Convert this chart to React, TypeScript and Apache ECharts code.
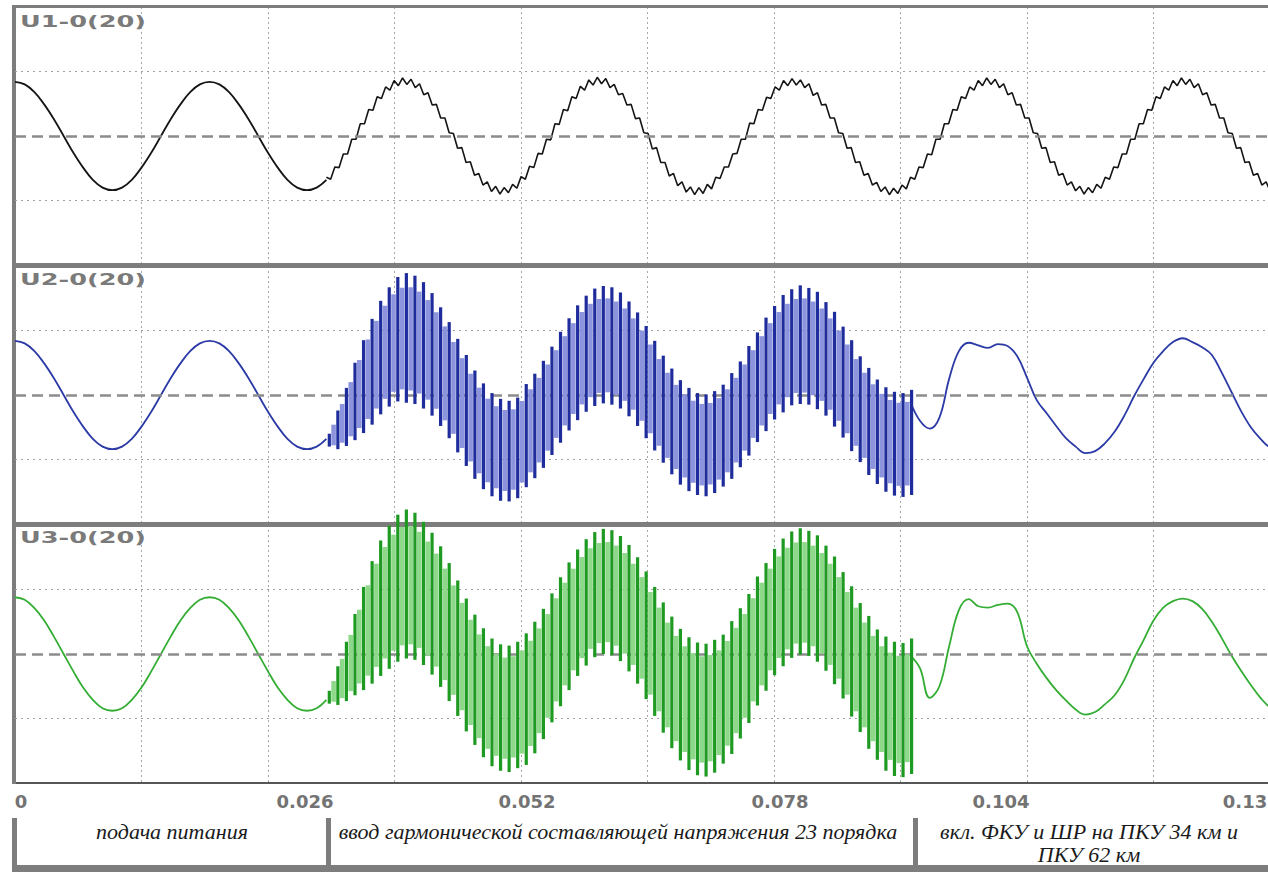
import React, { useEffect, useRef } from "react";
import * as echarts from "echarts";

// ---------- labels ----------
const X_TICK_LABELS = ["0", "0.026", "0.052", "0.078", "0.104", "0.13"];
const PANEL_TITLES = ["U1-0(20)", "U2-0(20)", "U3-0(20)"];
const CAPTION_1 = "подача питания";
const CAPTION_2 = "ввод гармонической составляющей напряжения 23 порядка";
const CAPTION_3A = "вкл. ФКУ и ШР на ПКУ 34 км и";
const CAPTION_3B = "ПКУ 62 км";

// ---------- sampling ----------
const X_MIN = 0;
const X_MAX = 0.13;
const X_STEP = 0.013;
const CLEAN_T0 = 0; // s
const CLEAN_DT = 0.001; // s
const HARM_T0 = 0.032; // s, start of 23rd harmonic injection (U1 trace)
const HARM_DT = 0.000435; // s, half period of the 23rd harmonic
const BAR_T0 = 0.0323; // s, first harmonic period on U2 / U3
const BAR_DT = 0.00088; // s, one period of the 23rd harmonic
const POST_T0 = 0.092; // s
const POST_DT = 0.001; // s

// ---------- U1 ----------
const U1_PRE = [
  0.84, 0.8, 0.68, 0.49, 0.26, 0.0, -0.26, -0.49, -0.68, -0.8, -0.84,
  -0.8, -0.68, -0.49, -0.26, 0.0, 0.26, 0.49, 0.68, 0.8, 0.84,
  0.8, 0.68, 0.49, 0.26, 0.0, -0.26, -0.49, -0.68, -0.8, -0.84, -0.8, -0.68,
];
const U1_HARM = [
  // 1
  -0.64, -0.67, -0.48, -0.49, -0.28, -0.28, -0.05, -0.05, 0.19, 0.19,
  0.41, 0.4, 0.61, 0.58, 0.76, 0.71, 0.86, 0.78, 0.9, 0.8,
  0.88, 0.75, 0.81, 0.64, 0.67, 0.48, 0.49, 0.28, 0.28, 0.05,
  0.04, -0.19, -0.18, -0.41, -0.4, -0.61, -0.58, -0.76, -0.71, -0.86,
  -0.78, -0.9, -0.8, -0.88, -0.75, -0.81,
  // 2
  -0.63, -0.67, -0.47, -0.49, -0.27, -0.28, -0.05, -0.06, 0.19, 0.18,
  0.41, 0.39, 0.61, 0.58, 0.77, 0.71, 0.87, 0.79, 0.91, 0.81,
  0.89, 0.75, 0.8, 0.64, 0.66, 0.48, 0.49, 0.27, 0.28, 0.05,
  0.04, -0.2, -0.18, -0.41, -0.41, -0.62, -0.58, -0.77, -0.71, -0.87,
  -0.79, -0.91, -0.8, -0.89, -0.75, -0.82,
  // 3
  -0.64, -0.66, -0.48, -0.48, -0.28, -0.27, -0.05, -0.05, 0.2, 0.19,
  0.41, 0.4, 0.6, 0.58, 0.76, 0.71, 0.86, 0.78, 0.89, 0.79,
  0.87, 0.75, 0.81, 0.63, 0.67, 0.48, 0.49, 0.28, 0.28, 0.05,
  0.04, -0.19, -0.18, -0.41, -0.4, -0.61, -0.58, -0.76, -0.72, -0.86,
  -0.79, -0.91, -0.81, -0.89, -0.76, -0.82,
  // 4
  -0.64, -0.67, -0.48, -0.49, -0.28, -0.29, -0.05, -0.05, 0.19, 0.19,
  0.41, 0.4, 0.61, 0.58, 0.76, 0.71, 0.86, 0.78, 0.9, 0.8,
  0.88, 0.75, 0.81, 0.64, 0.67, 0.48, 0.49, 0.28, 0.28, 0.05,
  0.04, -0.19, -0.18, -0.41, -0.4, -0.61, -0.58, -0.76, -0.71, -0.85,
  -0.78, -0.9, -0.8, -0.88, -0.75, -0.81,
  // 5
  -0.64, -0.67, -0.48, -0.49, -0.28, -0.28, -0.05, -0.05, 0.19, 0.19,
  0.41, 0.4, 0.61, 0.58, 0.76, 0.71, 0.86, 0.78, 0.9, 0.8,
  0.88, 0.75, 0.81, 0.64, 0.67, 0.48, 0.49, 0.28, 0.28, 0.05,
  0.04, -0.19, -0.18, -0.41, -0.4, -0.61, -0.58, -0.76, -0.71, -0.86,
  -0.78, -0.9, -0.8, -0.88, -0.75, -0.81,
];

// ---------- U2 ----------
const U2_PRE = [
  0.84, 0.8, 0.68, 0.49, 0.26, 0.0, -0.26, -0.49, -0.68, -0.8, -0.84,
  -0.8, -0.68, -0.49, -0.26, 0.0, 0.26, 0.49, 0.68, 0.8, 0.84,
  0.8, 0.68, 0.49, 0.26, 0.0, -0.26, -0.49, -0.68, -0.8, -0.84, -0.8, -0.68,
];
const U2_HI = [
  -0.6, -0.24, 0.11, 0.5, 0.85, 1.18, 1.46, 1.67, 1.83, 1.89, 1.85, 1.75,
  1.58, 1.36, 1.13, 0.87, 0.62, 0.38, 0.18, 0.03, -0.06, -0.09, -0.04,
  0.17, 0.33, 0.53, 0.75, 0.98, 1.19, 1.39, 1.54, 1.65, 1.69, 1.67, 1.59,
  1.45, 1.28, 1.07, 0.84, 0.61, 0.41, 0.23, 0.11, 0.03, 0.01, 0.06,
  0.16, 0.34, 0.52, 0.76, 0.97, 1.2, 1.38, 1.55, 1.64, 1.7, 1.66, 1.6,
  1.44, 1.29, 1.06, 0.85, 0.6, 0.42, 0.24, 0.12, 0.05, 0.03, 0.08,
];
const U2_LO = [
  -0.8, -0.84, -0.79, -0.7, -0.59, -0.46, -0.3, -0.18, -0.1, -0.12, -0.14, -0.21,
  -0.32, -0.48, -0.67, -0.89, -1.1, -1.3, -1.46, -1.57, -1.64, -1.65, -1.6,
  -1.43, -1.29, -1.13, -0.93, -0.74, -0.55, -0.39, -0.26, -0.17, -0.13, -0.15, -0.21,
  -0.33, -0.48, -0.67, -0.86, -1.05, -1.23, -1.39, -1.49, -1.55, -1.57, -1.52,
  -1.42, -1.3, -1.12, -0.94, -0.73, -0.56, -0.38, -0.27, -0.16, -0.14, -0.15, -0.22,
  -0.32, -0.49, -0.66, -0.87, -1.04, -1.24, -1.38, -1.5, -1.56, -1.58, -1.55,
];
const U2_POST = [
  -0.1, -0.4, -0.52, -0.35, 0.25, 0.68, 0.81, 0.77, 0.73,
  0.79, 0.76, 0.6, 0.27, -0.08, -0.28, -0.48, -0.67, -0.8, -0.9,
  -0.87, -0.75, -0.57, -0.32, -0.02, 0.25, 0.5, 0.68, 0.82, 0.88,
  0.82, 0.74, 0.62, 0.35, 0.05, -0.25, -0.5, -0.68, -0.82, -0.88,
];

// ---------- U3 ----------
const U3_PRE = [
  0.88, 0.84, 0.71, 0.52, 0.27, 0.0, -0.27, -0.52, -0.71, -0.84, -0.88,
  -0.84, -0.71, -0.52, -0.27, 0.0, 0.27, 0.52, 0.71, 0.84, 0.88,
  0.84, 0.71, 0.52, 0.27, 0.0, -0.27, -0.52, -0.71, -0.84, -0.88, -0.84, -0.71,
];
const U3_HI = [
  -0.57, -0.19, 0.19, 0.62, 1.04, 1.44, 1.76, 1.99, 2.16, 2.24, 2.19, 2.05,
  1.88, 1.67, 1.41, 1.14, 0.86, 0.61, 0.4, 0.24, 0.15, 0.13, 0.19,
  0.32, 0.5, 0.7, 0.94, 1.19, 1.42, 1.62, 1.78, 1.89, 1.94, 1.92, 1.83,
  1.69, 1.5, 1.28, 1.04, 0.8, 0.58, 0.39, 0.26, 0.18, 0.16, 0.22,
  0.3, 0.51, 0.71, 0.93, 1.2, 1.41, 1.63, 1.79, 1.9, 1.95, 1.91, 1.84,
  1.68, 1.51, 1.27, 1.05, 0.79, 0.59, 0.38, 0.27, 0.19, 0.17, 0.24,
];
const U3_LO = [
  -0.77, -0.79, -0.73, -0.64, -0.56, -0.46, -0.34, -0.23, -0.12, -0.07, -0.09, -0.17,
  -0.32, -0.51, -0.73, -0.96, -1.2, -1.41, -1.6, -1.74, -1.81, -1.83, -1.77,
  -1.72, -1.54, -1.32, -1.06, -0.81, -0.56, -0.34, -0.18, -0.05, 0.0, -0.02, -0.11,
  -0.27, -0.46, -0.7, -0.96, -1.22, -1.46, -1.65, -1.8, -1.88, -1.9, -1.84,
  -1.7, -1.55, -1.31, -1.07, -0.8, -0.57, -0.33, -0.19, -0.06, -0.01, -0.03, -0.12,
  -0.26, -0.47, -0.69, -0.97, -1.21, -1.47, -1.64, -1.81, -1.89, -1.91, -1.86,
];
const U3_POST = [
  -0.02, -0.22, -0.68, -0.5, 0.12, 0.68, 0.85, 0.74, 0.72,
  0.76, 0.78, 0.65, 0.12, -0.15, -0.37, -0.56, -0.72, -0.86, -0.94,
  -0.9, -0.78, -0.64, -0.4, -0.07, 0.22, 0.52, 0.72, 0.82, 0.86,
  0.82, 0.7, 0.5, 0.25, -0.02, -0.26, -0.48, -0.68, -0.83, -0.9,
];

const GUIDE_LEVELS = [1, -1];
const ZERO_LEVEL = 0;

// ---------- styles ----------
const GRID_LEFT = 15;
const GRID_RIGHT = 20;
const PANEL_TOPS = [7, 266, 525];
const PANEL_H = 258;
const FRAME = "#7d7d7d";
const U1_COLOR = "#151515";
const U2_COLOR = "#2c3aa6";
const U2_DARK = "#1f2c9c";
const U2_LIGHT = "#8b94dc";
const U3_COLOR = "#34ad34";
const U3_DARK = "#1e9a22";
const U3_LIGHT = "#8ed88a";
const LABEL_SHIFT: Record<string, number[]> = {
  s0: [0, 0, 0, 12],
  s1: [0, 0, 0, 74],
  s2: [0, 0, 0, 12],
  s3: [0, 0, 0, 12],
  s4: [0, 52, 0, 0],
  s5: [0, 70, 0, 0],
};

function lineSeries(idx: number, t0: number, dt: number, vals: number[], color: string, width: number, smooth: number | boolean) {
  return {
    type: "line",
    xAxisIndex: idx,
    yAxisIndex: idx,
    data: vals.map((v, i) => [t0 + i * dt, v]),
    symbol: "none",
    smooth,
    silent: true,
    z: 4,
    lineStyle: { color, width },
  };
}

function guideSeries(idx: number) {
  return {
    type: "line",
    xAxisIndex: idx,
    yAxisIndex: idx,
    data: [],
    symbol: "none",
    silent: true,
    z: 1,
    markLine: {
      silent: true,
      symbol: "none",
      label: { show: false },
      data: [
        ...GUIDE_LEVELS.map((y) => ({
          yAxis: y,
          lineStyle: { color: "#a0a0a0", width: 1, type: [2, 4] },
        })),
        { yAxis: ZERO_LEVEL, lineStyle: { color: "#8c8c8c", width: 2.5, type: [11, 6] } },
      ],
    },
  };
}

function bandSeries(idx: number, hi: number[], lo: number[], dark: string, light: string) {
  const data = hi.map((h, k) => [BAR_T0 + k * BAR_DT, lo[k], h]);
  return {
    type: "custom",
    xAxisIndex: idx,
    yAxisIndex: idx,
    clip: false,
    silent: true,
    z: 5,
    encode: { x: 0, y: [1, 2] },
    data,
    renderItem: (params: any, api: any) => {
      const k = params.dataIndex;
      const t = api.value(0) as number;
      const l = api.value(1) as number;
      const h = api.value(2) as number;
      const top = api.coord([t, h]);
      const bot = api.coord([t, l]);
      const children: any[] = [];
      if (k + 1 < data.length) {
        const [t2, l2, h2] = data[k + 1];
        const cm = (h + l + h2 + l2) / 4;
        const r = ((h - l + h2 - l2) / 4) * 0.8;
        const a = api.coord([t, cm + r]);
        const b = api.coord([t2, cm - r]);
        const mid = (a[0] + b[0]) / 2;
        children.push({
          type: "rect",
          shape: { x: mid - 2.3, y: a[1], width: 4.6, height: b[1] - a[1] },
          style: { fill: light },
        });
      }
      children.push({
        type: "rect",
        shape: { x: top[0] - 1.6, y: top[1], width: 3.2, height: bot[1] - top[1] },
        style: { fill: dark },
      });
      return { type: "group", children };
    },
  };
}

function buildOption() {
  const grids = PANEL_TOPS.map((top) => ({
    left: GRID_LEFT,
    right: GRID_RIGHT,
    top,
    height: PANEL_H,
  }));
  const xAxes = PANEL_TOPS.map((_, i) => ({
    type: "value",
    gridIndex: i,
    min: X_MIN,
    max: X_MAX,
    interval: X_STEP,
    axisLine: { show: i === 2, onZero: false, lineStyle: { color: "#555", width: 2 } },
    axisTick: { show: false },
    splitLine: { show: true, lineStyle: { color: "#a8a8a8", width: 1, type: [2, 3] } },
    axisLabel:
      i === 2
        ? {
            show: true,
            margin: 9,
            showMinLabel: true,
            showMaxLabel: true,
            color: "#737373",
            fontFamily: "DejaVu Sans",
            fontWeight: "bold",
            fontSize: 18,
            formatter: (v: number) => {
              const n = Math.round(v / X_STEP);
              if (n % 2 !== 0) return "";
              const lbl = X_TICK_LABELS[n / 2];
              return lbl ? `{s${n / 2}|${lbl}}` : "";
            },
            rich: Object.fromEntries(
              Object.entries(LABEL_SHIFT).map(([k, p]) => [
                k,
                { padding: p, color: "#737373", fontFamily: "DejaVu Sans", fontWeight: "bold", fontSize: 18 },
              ])
            ),
          }
        : { show: false },
  }));
  const yAxes = PANEL_TOPS.map((_, i) => ({
    type: "value",
    gridIndex: i,
    min: -2,
    max: 2,
    interval: 1,
    axisLine: { show: false },
    axisTick: { show: false },
    axisLabel: { show: false },
    splitLine: { show: false },
  }));

  const series: any[] = [
    guideSeries(0),
    guideSeries(1),
    guideSeries(2),
    lineSeries(0, CLEAN_T0, CLEAN_DT, U1_PRE, U1_COLOR, 1.8, 0.4),
    lineSeries(0, HARM_T0, HARM_DT, U1_HARM, U1_COLOR, 1.6, false),
    lineSeries(1, CLEAN_T0, CLEAN_DT, U2_PRE, U2_COLOR, 1.8, 0.4),
    bandSeries(1, U2_HI, U2_LO, U2_DARK, U2_LIGHT),
    lineSeries(1, POST_T0, POST_DT, U2_POST, U2_COLOR, 1.8, 0.4),
    lineSeries(2, CLEAN_T0, CLEAN_DT, U3_PRE, U3_COLOR, 1.8, 0.4),
    bandSeries(2, U3_HI, U3_LO, U3_DARK, U3_LIGHT),
    lineSeries(2, POST_T0, POST_DT, U3_POST, U3_COLOR, 1.8, 0.4),
  ];

  const titleFont = {
    fontFamily: "DejaVu Sans",
    fontWeight: "bold",
    fontSize: 16,
    fill: "#7a7a7a",
  };
  const capFont = {
    fontFamily: "Liberation Serif",
    fontStyle: "italic",
    fontSize: 22,
    fill: "#1a1a1a",
    textAlign: "center",
    textVerticalAlign: "middle",
  };

  const graphic: any[] = [
    // frame
    { type: "rect", z: 3, silent: true, shape: { x: 12, y: 5, width: 1300, height: 3 }, style: { fill: FRAME } },
    { type: "rect", z: 3, silent: true, shape: { x: 12, y: 263, width: 1300, height: 5 }, style: { fill: FRAME } },
    { type: "rect", z: 3, silent: true, shape: { x: 12, y: 522, width: 1300, height: 5 }, style: { fill: FRAME } },
    { type: "rect", z: 3, silent: true, shape: { x: 12, y: 5, width: 4, height: 779 }, style: { fill: FRAME } },
    // caption boxes
    { type: "rect", z: 3, silent: true, shape: { x: 12, y: 818, width: 5, height: 52 }, style: { fill: FRAME } },
    { type: "rect", z: 3, silent: true, shape: { x: 326, y: 818, width: 5, height: 52 }, style: { fill: FRAME } },
    { type: "rect", z: 3, silent: true, shape: { x: 913, y: 818, width: 5, height: 52 }, style: { fill: FRAME } },
    { type: "rect", z: 3, silent: true, shape: { x: 12, y: 865, width: 1300, height: 7 }, style: { fill: FRAME } },
    // captions
    { type: "text", z: 10, silent: true, x: 172, y: 831, style: { ...capFont, text: CAPTION_1 } },
    { type: "text", z: 10, silent: true, x: 618, y: 831, style: { ...capFont, text: CAPTION_2 } },
    { type: "text", z: 10, silent: true, x: 1089, y: 831, style: { ...capFont, text: CAPTION_3A } },
    { type: "text", z: 10, silent: true, x: 1089, y: 854, style: { ...capFont, text: CAPTION_3B } },
    // panel titles
    ...PANEL_TITLES.map((t, i) => ({
      type: "text",
      z: 10,
      silent: true,
      x: 20,
      y: [21, 279, 537][i],
      scaleX: 1.6,
      style: { ...titleFont, text: t, textAlign: "left", textVerticalAlign: "middle" },
    })),
  ];

  return {
    animation: false,
    backgroundColor: "#ffffff",
    grid: grids,
    xAxis: xAxes,
    yAxis: yAxes,
    series,
    graphic,
  };
}

export default function App() {
  const ref = useRef<HTMLDivElement>(null);
  useEffect(() => {
    if (!ref.current) return;
    const chart = echarts.init(ref.current, null, { renderer: "svg" });
    chart.setOption(buildOption() as any);
    return () => chart.dispose();
  }, []);
  return (
    <div
      style={{
        position: "absolute",
        left: 0,
        top: 0,
        width: 1268,
        height: 872,
        overflow: "hidden",
        background: "#fff",
      }}
    >
      <div ref={ref} style={{ width: 1300, height: 872 }} />
    </div>
  );
}
